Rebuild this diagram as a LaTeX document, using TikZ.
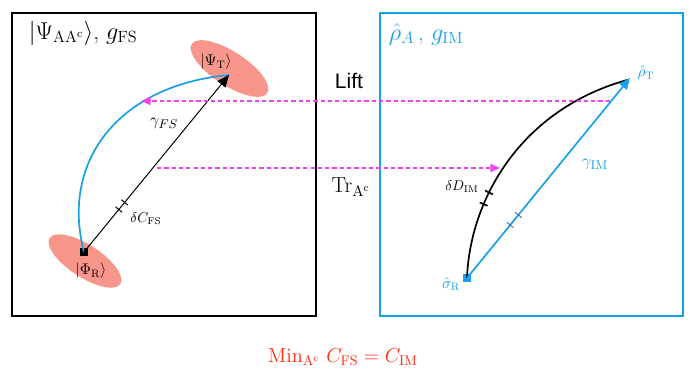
\documentclass[tikz,border=0pt]{standalone}
\usepackage{fontspec}
\newfontfamily\liftfont{Liberation Sans}
\usepackage{tikz}
\usetikzlibrary{arrows.meta,positioning,shapes.geometric}
\definecolor{psalmon}{HTML}{F9968B}
\definecolor{pmag}{HTML}{F040F0}
\definecolor{pblue}{HTML}{16A0E8}
\definecolor{dblue}{HTML}{3A5A9C}
\definecolor{pred}{HTML}{FF2A10}
\tikzset{
  blob/.style={ellipse,fill=psalmon,inner sep=0pt},
  sqmark/.style={rectangle,fill=black,inner sep=0pt,minimum size=5pt},
  tick/.style={sloped,draw,inner sep=0pt,minimum width=0pt,minimum height=6pt},
  marr/.style={-{Triangle[length=2.4mm,width=2mm]},pmag,line width=1.1pt,dash pattern=on 3pt off 2.2pt},
  lbl/.style={font=\fontsize{13}{15}\selectfont},
  head/.style={font=\fontsize{16.5}{18}\selectfont,anchor=west},
  small/.style={font=\fontsize{11}{13}\selectfont},
}
\begin{document}
\begin{tikzpicture}[x=0.025cm,y=-0.025cm]
\useasboundingbox (0,0) rectangle (693,388);
% the two spaces
\draw[line width=1.4pt] (12,13) rectangle (316,316);
\draw[pblue,line width=1.6pt] (380,13) rectangle (683,316);
\node[head] (fshead) at (24,33) {$|\Psi_{\rm AA^c}\rangle$, $g_{\rm FS}$};
\node[head,text=pblue] (imhead) at (384,34) {$\hat\rho_A$\,, $g_{\rm IM}$};
% states in the full space
\node[blob,minimum width=64pt,minimum height=24pt,rotate=-33] (psiT) at (229.5,68.5) {};
\node[blob,minimum width=60pt,minimum height=23pt,rotate=-33] (phiRblob) at (85,261) {};
\node[small] (psiTlbl) at (216,62) {$|\Psi_{\rm T}\rangle$};
\node[small] (phiRlbl) at (91,271) {$|\Phi_{\rm R}\rangle$};
\node[sqmark] (phiR) at (84,252) {};
\coordinate (psiTtip) at (229,75);
\draw[pblue,line width=1.2pt] (phiR.center) .. controls (60,160) and (120,85) .. (psiTtip);
\draw[-{Triangle[length=3mm,width=2.6mm]},line width=0.7pt] (phiR.center) -- (psiTtip)
  node[tick,pos=0.24] {} node[tick,pos=0.28] {};
\node[lbl] (gfs) at (164,124) {$\gamma_{FS}$};
\node[font=\normalsize] (dcfs) at (146,219) {$\delta C_{\rm FS}$};
% states in the reduced space
\node[sqmark,fill=pblue] (sigR) at (467,278) {};
\coordinate (rhoTtip) at (630,78);
\draw[line width=1.2pt] (sigR.center) .. controls (470,200) and (520,110) .. (627,80)
  node[tick,pos=0.31] {} node[tick,pos=0.36] {};
\draw[pblue,-{Triangle[length=2.8mm,width=2.4mm]},line width=1.2pt] (sigR.center) -- (rhoTtip)
  node[tick,draw=dblue,line width=0.6pt,pos=0.265] {} node[tick,draw=dblue,line width=0.6pt,pos=0.315] {};
\node[lbl,text=pblue] (gim) at (595,165) {$\gamma_{\rm IM}$};
\node[small,text=pblue] (rhoT) at (646,73) {$\hat\rho_{\rm T}$};
\node[small,text=pblue] (sigRlbl) at (451,284) {$\hat\sigma_{\rm R}$};
\node[font=\normalsize] (ddim) at (462,187) {$\delta D_{\rm IM}$};
% lift and partial trace
\coordinate (liftS) at (610,101);
\coordinate (liftE) at (141,101);
\coordinate (trS) at (157,168);
\coordinate (trE) at (500,168);
\draw[marr] (liftS) -- (liftE);
\draw[marr] (trS) -- (trE);
\node[font=\liftfont\fontsize{15}{17}\selectfont] (lift) at (349,81) {Lift};
\node[font=\fontsize{15.5}{17}\selectfont] (tr) at (351,187) {Tr$_{\rm A^c}$};
\node[font=\Large,text=pred] (minc) at (343,357) {Min$_{\rm A^c}$ $C_{\rm FS}=C_{\rm IM}$};
\end{tikzpicture}
\end{document}
